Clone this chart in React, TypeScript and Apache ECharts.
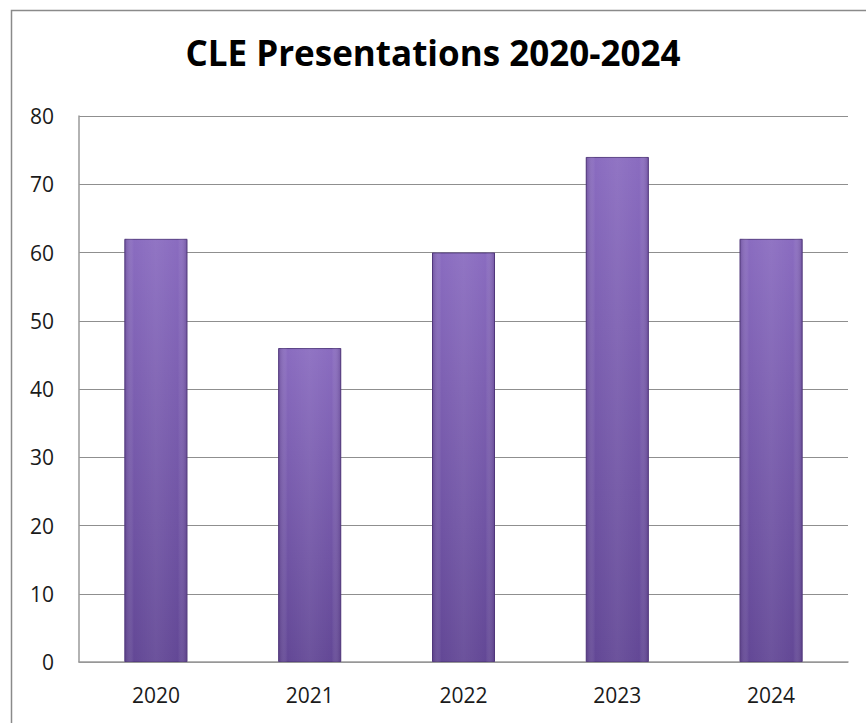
import React, { useEffect, useRef } from "react";
import * as echarts from "echarts";

const categories = ["2020", "2021", "2022", "2023", "2024"];
const values = [62, 46, 60, 74, 62];
const titleText = "CLE Presentations 2020-2024";

export default function App() {
  const ref = useRef<HTMLDivElement>(null);
  useEffect(() => {
    document.body.style.margin = "0";
    const chart = echarts.init(ref.current!, undefined, { renderer: "svg" });
    chart.setOption({
      animation: false,
      backgroundColor: "#ffffff",
      title: {
        text: titleText,
        left: "center",
        top: 30,
        textStyle: { fontFamily: "Open Sans", fontWeight: "bold", fontSize: 35, color: "#000" },
      },
      graphic: [
        {
          type: "rect",
          shape: { x: 11.5, y: 10.5, width: 900, height: 800 },
          style: { fill: "none", stroke: "#8a8a8a", lineWidth: 1.5 },
          silent: true,
        },
      ],
      grid: { left: 79, right: 18, top: 116, bottom: 61, containLabel: false },
      xAxis: {
        type: "category",
        data: categories,
        axisLine: { show: true, lineStyle: { color: "#9a9a9a", width: 1.5 } },
        axisTick: { show: false },
        axisLabel: { fontFamily: "Open Sans", fontSize: 21, color: "#1a1a1a", margin: 22 },
      },
      yAxis: {
        type: "value",
        min: 0,
        max: 80,
        interval: 10,
        axisLine: { show: true, lineStyle: { color: "#9a9a9a", width: 1.5 } },
        axisTick: { show: false },
        axisLabel: { fontFamily: "Open Sans", fontSize: 21, color: "#1a1a1a", margin: 25 },
        splitLine: { show: true, lineStyle: { color: "#8f8f8f", width: 1 } },
      },
      series: [
        {
          type: "bar",
          data: values,
          barWidth: 63,
          itemStyle: {
            color: new echarts.graphic.LinearGradient(0, 0, 0, 1, [
              { offset: 0, color: "#8a6cc0" },
              { offset: 1, color: "#634896" },
            ]),
            borderColor: "#553d82",
            borderWidth: 1,
          },
        },
        {
          type: "bar",
          data: values,
          barWidth: 63,
          barGap: "-100%",
          silent: true,
          itemStyle: {
            color: new echarts.graphic.LinearGradient(0, 0, 1, 0, [
              { offset: 0, color: "rgba(60,30,100,0.35)" },
              { offset: 0.15, color: "rgba(255,255,255,0.0)" },
              { offset: 0.5, color: "rgba(255,255,255,0.06)" },
              { offset: 0.85, color: "rgba(255,255,255,0.0)" },
              { offset: 1, color: "rgba(60,30,100,0.35)" },
            ]),
          },
        },
      ],
    });
    return () => chart.dispose();
  }, []);
  return <div ref={ref} style={{ width: 866, height: 723 }} />;
}
